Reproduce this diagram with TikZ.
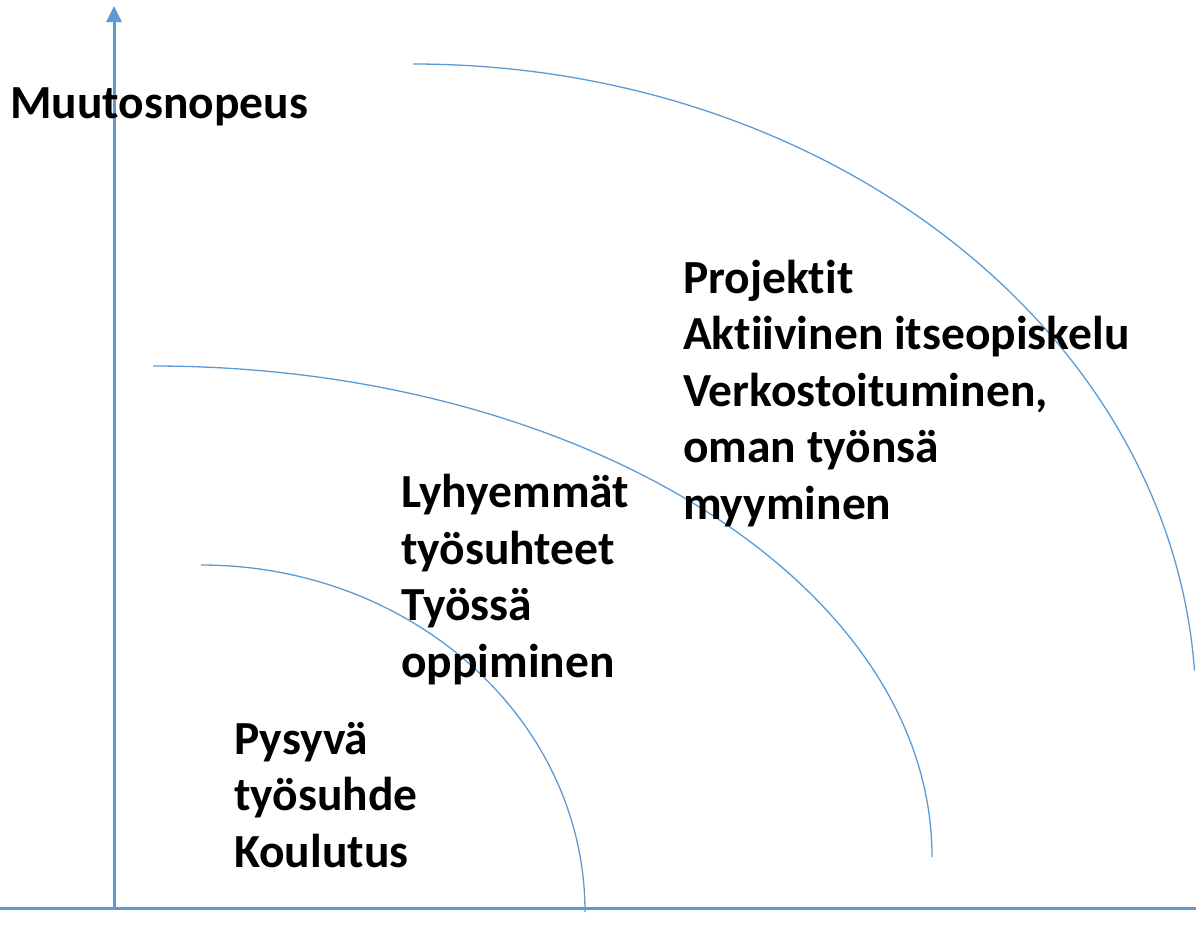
\documentclass[tikz,border=0pt]{standalone}
\usepackage{fontspec}
\setmainfont[Ligatures=NoCommon]{Carlito}
\usetikzlibrary{arrows.meta}
\definecolor{axisblue}{HTML}{5B9BD5}
\begin{document}
\begin{tikzpicture}[x=1pt,y=1pt,
  axisline/.style={draw=axisblue,line width=3pt},
  ring/.style={draw=axisblue,line width=1.3pt},
  label/.style={inner sep=0pt,anchor=base west,align=left,
    font=\fontsize{47.5}{56.5}\selectfont\bfseries}]
\useasboundingbox (0,0) rectangle (1196,-935);
\begin{scope}
\clip (0,0) rectangle (1196,-935);
% axes
\coordinate (origin) at (114,-908);
\coordinate (ytop) at (114,-6);
\coordinate (xleft) at (0,-908);
\coordinate (xright) at (1196,-908);
\draw[axisline] (xleft) -- (xright);
\draw[axisline,-{Triangle[width=15pt,length=16pt]}] (origin) -- (ytop);
% quarter-ellipse rings
\coordinate (ringA) at (201,-565);
\coordinate (ringB) at (153,-366);
\coordinate (ringC) at (413,-64);
\draw[ring] (ringA) arc[start angle=90,end angle=0,x radius=384,y radius=347];
\draw[ring] (ringB) arc[start angle=90,end angle=0,x radius=779,y radius=491];
\draw[ring] (ringC) arc[start angle=90,end angle=3.5,x radius=783,y radius=646];
\end{scope}
% labels (anchored at the baseline of their last line)
\node[label] (speed) at (10,-118) {Muutosnopeus};
\node[label] (outer) at (683,-519) {Projektit\\Aktiivinen itseopiskelu\\Verkostoituminen,\\oman työnsä\\myyminen};
\node[label] (middle) at (401,-677) {Lyhyemmät\\työsuhteet\\Työssä\\oppiminen};
\node[label] (inner) at (234,-867) {Pysyvä\\työsuhde\\Koulutus};
\end{tikzpicture}
\end{document}
